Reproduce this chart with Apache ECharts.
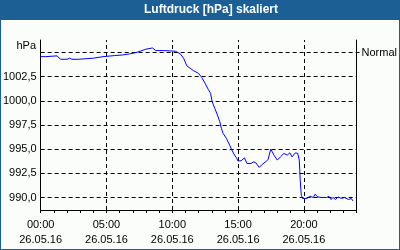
<!DOCTYPE html>
<html>
<head>
<meta charset="utf-8">
<script src="https://cdn.jsdelivr.net/npm/echarts@6/dist/echarts.min.js"></script>
<style>
html,body{margin:0;padding:0;background:#fbfdfb;}
#chart{width:400px;height:250px;}
</style>
</head>
<body>
<div id="chart"></div>
<script>
// ---- data (hours since 00:00 on 26.05.16, pressure in hPa) ----
const hours = [0, 0.37, 0.5, 1.25, 1.37, 1.5, 2.0, 2.2, 2.37, 2.87, 3.0, 4.0, 4.12, 4.74, 4.87, 5.62, 5.74, 6.24, 6.37, 6.74, 6.87, 7.24, 7.36, 7.62, 7.74, 7.99, 8.11, 8.49, 8.61, 8.74, 9.36, 9.49, 10.24, 10.36,
  10.61, 10.86, 11.11, 11.36, 11.61, 11.99, 12.23, 12.49, 12.73, 12.91, 13.03, 13.23, 13.43, 13.61, 13.73, 13.86, 14.11, 14.36, 14.53, 14.73, 14.91,
  14.98, 15.23, 15.48, 15.68, 15.98, 16.18, 16.35, 16.61, 16.85, 17.10, 17.28, 17.48, 17.73, 17.98, 18.22, 18.48, 18.73, 18.93, 19.10, 19.35, 19.53, 19.65, 19.72, 19.80, 19.90,
  20.05, 20.22, 20.47, 20.72, 20.85, 21.05, 21.35, 21.72, 21.90, 22.05, 22.22, 22.40, 22.60, 22.85, 23.09, 23.39, 23.60, 23.72];
const pressure = [1004.57, 1004.57, 1004.65, 1004.65, 1004.47, 1004.30, 1004.30, 1004.41, 1004.30, 1004.30, 1004.41, 1004.41, 1004.57, 1004.57, 1004.68, 1004.68, 1004.75, 1004.75, 1004.85, 1004.85, 1004.99, 1004.99, 1005.16, 1005.16, 1005.34, 1005.34, 1005.47, 1005.47, 1005.34, 1005.20, 1005.20, 1005.13, 1005.13, 1005.16,
  1004.86, 1004.41, 1003.61, 1003.37, 1003.12, 1002.85, 1002.44, 1001.82, 1001.19, 1000.78, 999.91, 999.22, 998.53, 997.84, 997.15, 996.63, 996.12, 995.42, 994.90, 994.38, 994.04,
  993.79, 993.79, 994.10, 993.52, 993.52, 993.69, 993.59, 993.11, 993.45, 993.69, 993.94, 995.01, 994.38, 993.87, 994.21, 994.56, 994.38, 994.62, 994.21, 994.62, 994.56, 993.87, 991.79, 990.24, 989.90,
  990.06, 989.90, 990.13, 990.00, 990.34, 990.06, 990.00, 990.00, 990.13, 989.79, 990.00, 989.79, 990.06, 989.90, 990.00, 989.79, 989.90, 989.65];
const xLabelHours = [0, 5, 10, 15, 20];
const xGridHours = [5, 10, 15, 20];
const xTickHours = [0, 1, 2, 3, 4, 5, 6, 7, 8, 9, 10, 11, 12, 13, 14, 15, 16, 17, 18, 19, 20, 21, 22, 23, 24];
const dateLabel = '26.05.16';
const yLabelValues = [990, 992.5, 995, 997.5, 1000, 1002.5];
const yGridValues = [990, 992.5, 995, 997.5, 1000, 1002.5, 1005];
const normalValue = 1005;
const titleText = 'Luftdruck [hPa] skaliert';
const unitText = 'hPa';

const yMin = 988.707, yMax = 1006.293;
const font = 'Liberation Sans';
const dash = [4, 3];

const chart = echarts.init(document.getElementById('chart'), null, {renderer: 'canvas'});
chart.setOption({
  animation: false,
  backgroundColor: '#fbfdfb',
  grid: {left: 40, top: 40, width: 320, height: 170, containLabel: false},
  graphic: [
    {type: 'rect', shape: {x: 0, y: 0, width: 400, height: 20}, style: {fill: '#1c5f94'}},
    {type: 'rect', shape: {x: 0, y: 0, width: 1, height: 250}, style: {fill: '#1c5f94'}},
    {type: 'rect', shape: {x: 399, y: 0, width: 1, height: 250}, style: {fill: '#1c5f94'}},
    {type: 'rect', shape: {x: 0, y: 249, width: 400, height: 1}, style: {fill: '#1c5f94'}},
    {type: 'text', x: 211, y: 10, style: {text: titleText, fill: '#ffffff', font: 'bold 12px "Liberation Sans"', textAlign: 'center', textVerticalAlign: 'middle'}},
    {type: 'text', x: 36, y: 46, style: {text: unitText, fill: '#000000', font: '11px "Liberation Sans"', textAlign: 'right', textVerticalAlign: 'middle'}}
  ],
  xAxis: {
    type: 'value', min: 0, max: 24, interval: 5,
    axisLine: {show: true, lineStyle: {color: '#000', width: 1}},
    axisTick: {show: true, length: 3, customValues: xTickHours, lineStyle: {color: '#000'}},
    axisLabel: {
      customValues: xLabelHours, color: '#000', fontFamily: font, fontSize: 11, lineHeight: 15, margin: 7,
      formatter: v => String(v).padStart(2, '0') + ':00\n' + dateLabel
    },
    splitLine: {show: false}
  },
  yAxis: [
    {
      type: 'value', min: yMin, max: yMax, position: 'left',
      axisLine: {show: true, lineStyle: {color: '#000', width: 1}},
      axisTick: {show: false},
      axisLabel: {customValues: yLabelValues, color: '#000', fontFamily: font, fontSize: 11, margin: 4,
        formatter: v => v.toFixed(1).replace('.', ',')},
      splitLine: {show: false}
    },
    {
      type: 'value', min: yMin, max: yMax, position: 'right',
      axisLine: {show: true, lineStyle: {color: '#000', width: 1}},
      axisTick: {show: true, length: 3, customValues: [normalValue], lineStyle: {color: '#000'}},
      axisLabel: {customValues: [normalValue], color: '#000', fontFamily: font, fontSize: 11, margin: 5,
        formatter: () => 'Normal'},
      splitLine: {show: false}
    }
  ],
  series: [{
    type: 'line',
    data: hours.map((h, i) => [h, pressure[i]]),
    showSymbol: false,
    symbol: 'none',
    z: 3,
    lineStyle: {color: '#0000ff', width: 1},
    markLine: {
      silent: true, symbol: 'none', z: 1, animation: false,
      label: {show: false},
      lineStyle: {color: '#000', type: dash, width: 1},
      data: yGridValues.map(v => ({yAxis: v})).concat(xGridHours.map(h => ({xAxis: h})))
    }
  }]
});
</script>
</body>
</html>
